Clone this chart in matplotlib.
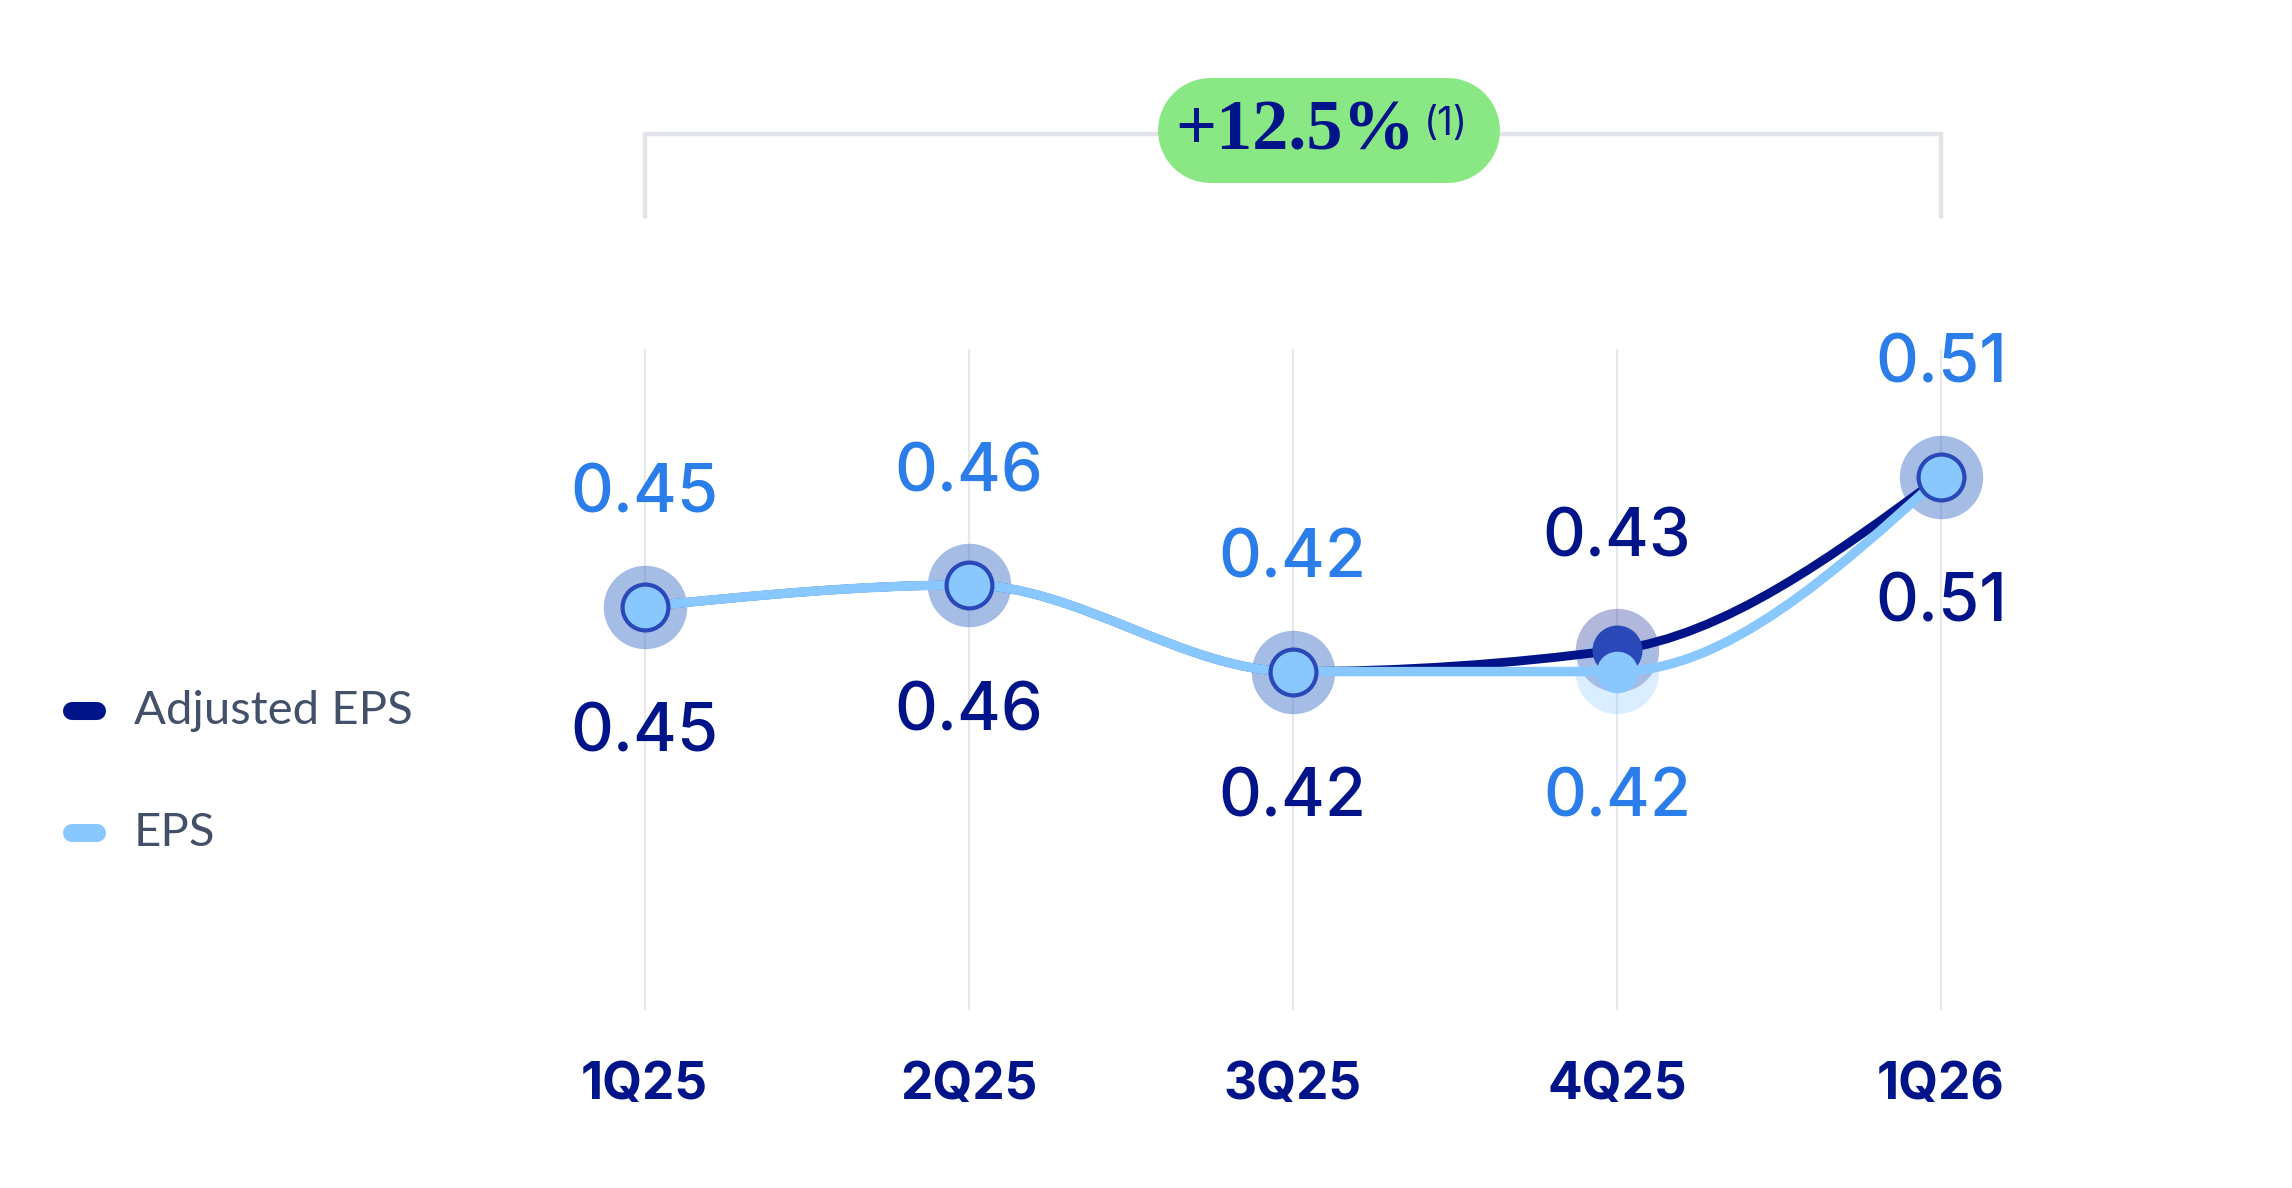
import matplotlib.pyplot as plt
import numpy as np
from matplotlib.path import Path
from matplotlib.patches import PathPatch
from matplotlib.lines import Line2D

# data
quarters = ['1Q25', '2Q25', '3Q25', '4Q25', '1Q26']
adjusted_eps = [0.45, 0.46, 0.42, 0.43, 0.51]
eps = [0.45, 0.46, 0.42, 0.42, 0.51]
growth_label = '+12.5%'
growth_note = '(1)'

NAVY = '#001489'
LIGHT = '#88c8ff'
ADJ_DOT = '#2a48b8'
EPS_TXT = '#2b7de9'
GRID = '#e6e8ec'
LEG_TXT = '#435069'


def monotone_path(xs, ys):
    # monotone cubic (like d3 curveMonotoneX) as bezier path
    xs = np.asarray(xs, float)
    ys = np.asarray(ys, float)
    n = len(xs)
    h = np.diff(xs)
    s = np.diff(ys) / h
    t = np.zeros(n)
    for i in range(1, n - 1):
        p = (s[i - 1] * h[i] + s[i] * h[i - 1]) / (h[i - 1] + h[i])
        t[i] = (np.sign(s[i - 1]) + np.sign(s[i])) * min(abs(s[i - 1]), abs(s[i]), 0.5 * abs(p))
    t[0] = (3 * s[0] - t[1]) / 2
    t[-1] = (3 * s[-1] - t[-2]) / 2
    verts = [(xs[0], ys[0])]
    codes = [Path.MOVETO]
    for i in range(n - 1):
        dx = h[i] / 3
        verts += [(xs[i] + dx, ys[i] + dx * t[i]),
                  (xs[i + 1] - dx, ys[i + 1] - dx * t[i + 1]),
                  (xs[i + 1], ys[i + 1])]
        codes += [Path.CURVE4] * 3
    return Path(verts, codes)


fig = plt.figure(figsize=(11.46, 5.94), dpi=200)
ax = fig.add_axes([0, 0, 1, 1])
ax.set_xlim(-1.989, 5.083)
ax.set_ylim(0.1816, 0.7300)
ax.axis('off')

x = np.arange(len(quarters))

# vertical grid lines
for xi in x:
    ax.axvline(xi, ymin=0.151, ymax=0.705, color=GRID, lw=0.8, zorder=1)

# lines
ax.add_patch(PathPatch(monotone_path(x, adjusted_eps), fill=False, edgecolor=NAVY,
                       lw=3.2, capstyle='round', zorder=4))
ax.add_patch(PathPatch(monotone_path(x, eps), fill=False, edgecolor=LIGHT,
                       lw=3.4, capstyle='round', zorder=4.1))

# markers
ax.plot(x, adjusted_eps, 'o', ms=30, color=NAVY, alpha=0.3, mew=0, zorder=3)
ax.plot(x, eps, 'o', ms=30, color=LIGHT, alpha=0.3, mew=0, zorder=3.1)
ax.plot(x, adjusted_eps, 'o', ms=18, color=ADJ_DOT, mew=0, zorder=5)
ax.plot(x, eps, 'o', ms=15, color=LIGHT, mew=0, zorder=6)

# value labels
num_font = dict(family=['Inter', 'DejaVu Sans'], fontsize=24, fontweight='medium',
                ha='center', va='center', zorder=7)
for xi, a, e in zip(x, adjusted_eps, eps):
    adj_up = a > e
    ax.annotate(f'{a:.2f}', (xi, a), xytext=(0, 40 if adj_up else -46),
                textcoords='offset points', color=NAVY, **num_font)
    ax.annotate(f'{e:.2f}', (xi, e), xytext=(0, -46 if adj_up else 40),
                textcoords='offset points', color=EPS_TXT, **num_font)

# category labels
for xi, q in zip(x, quarters):
    ax.text(xi, 0.086, q, transform=ax.get_xaxis_transform(), ha='center', va='center',
            fontsize=18.5, fontweight='bold', color=NAVY, family=['Inter', 'DejaVu Sans'])

# bracket on top
xt = ax.get_xaxis_transform()
ax.plot([x[0], x[0], x[-1], x[-1]], [0.818, 0.8868, 0.8868, 0.818], transform=xt,
        color='#e1e4e8', lw=1.6, solid_joinstyle='miter', zorder=1)

# growth pill (stadium shape as a thick round-capped line)
pill_y = 1 - 89 / 813
fig.add_artist(Line2D([(792 + 36) / 1568, (1026 - 36) / 1568], [pill_y, pill_y],
                      color='#8ae884', lw=37.8, solid_capstyle='round',
                      transform=fig.transFigure, zorder=8))
fig.text(886 / 1568, 1 - 90 / 813, growth_label, ha='center', va='center', fontsize=26,
         fontweight='bold', color=NAVY, family='Liberation Serif', zorder=9)
fig.text(989 / 1568, 1 - 85 / 813, growth_note, ha='center', va='center', fontsize=14,
         color=NAVY, family=['Inter', 'DejaVu Sans'], zorder=9)

# legend
legend_items = [('Adjusted EPS', NAVY), ('EPS', LIGHT)]
for i, (lab, col) in enumerate(legend_items):
    yy = 1 - (711 + i * 122) / 1188
    fig.add_artist(Line2D([72 / 2292, 97 / 2292], [yy, yy], color=col, lw=6.5,
                          solid_capstyle='round', transform=fig.transFigure))
    fig.text(134 / 2292, yy, lab, ha='left', va='center', fontsize=17, color=LEG_TXT,
             family=['Lato', 'DejaVu Sans'])

fig.savefig('out.png', dpi=200, facecolor='white')
